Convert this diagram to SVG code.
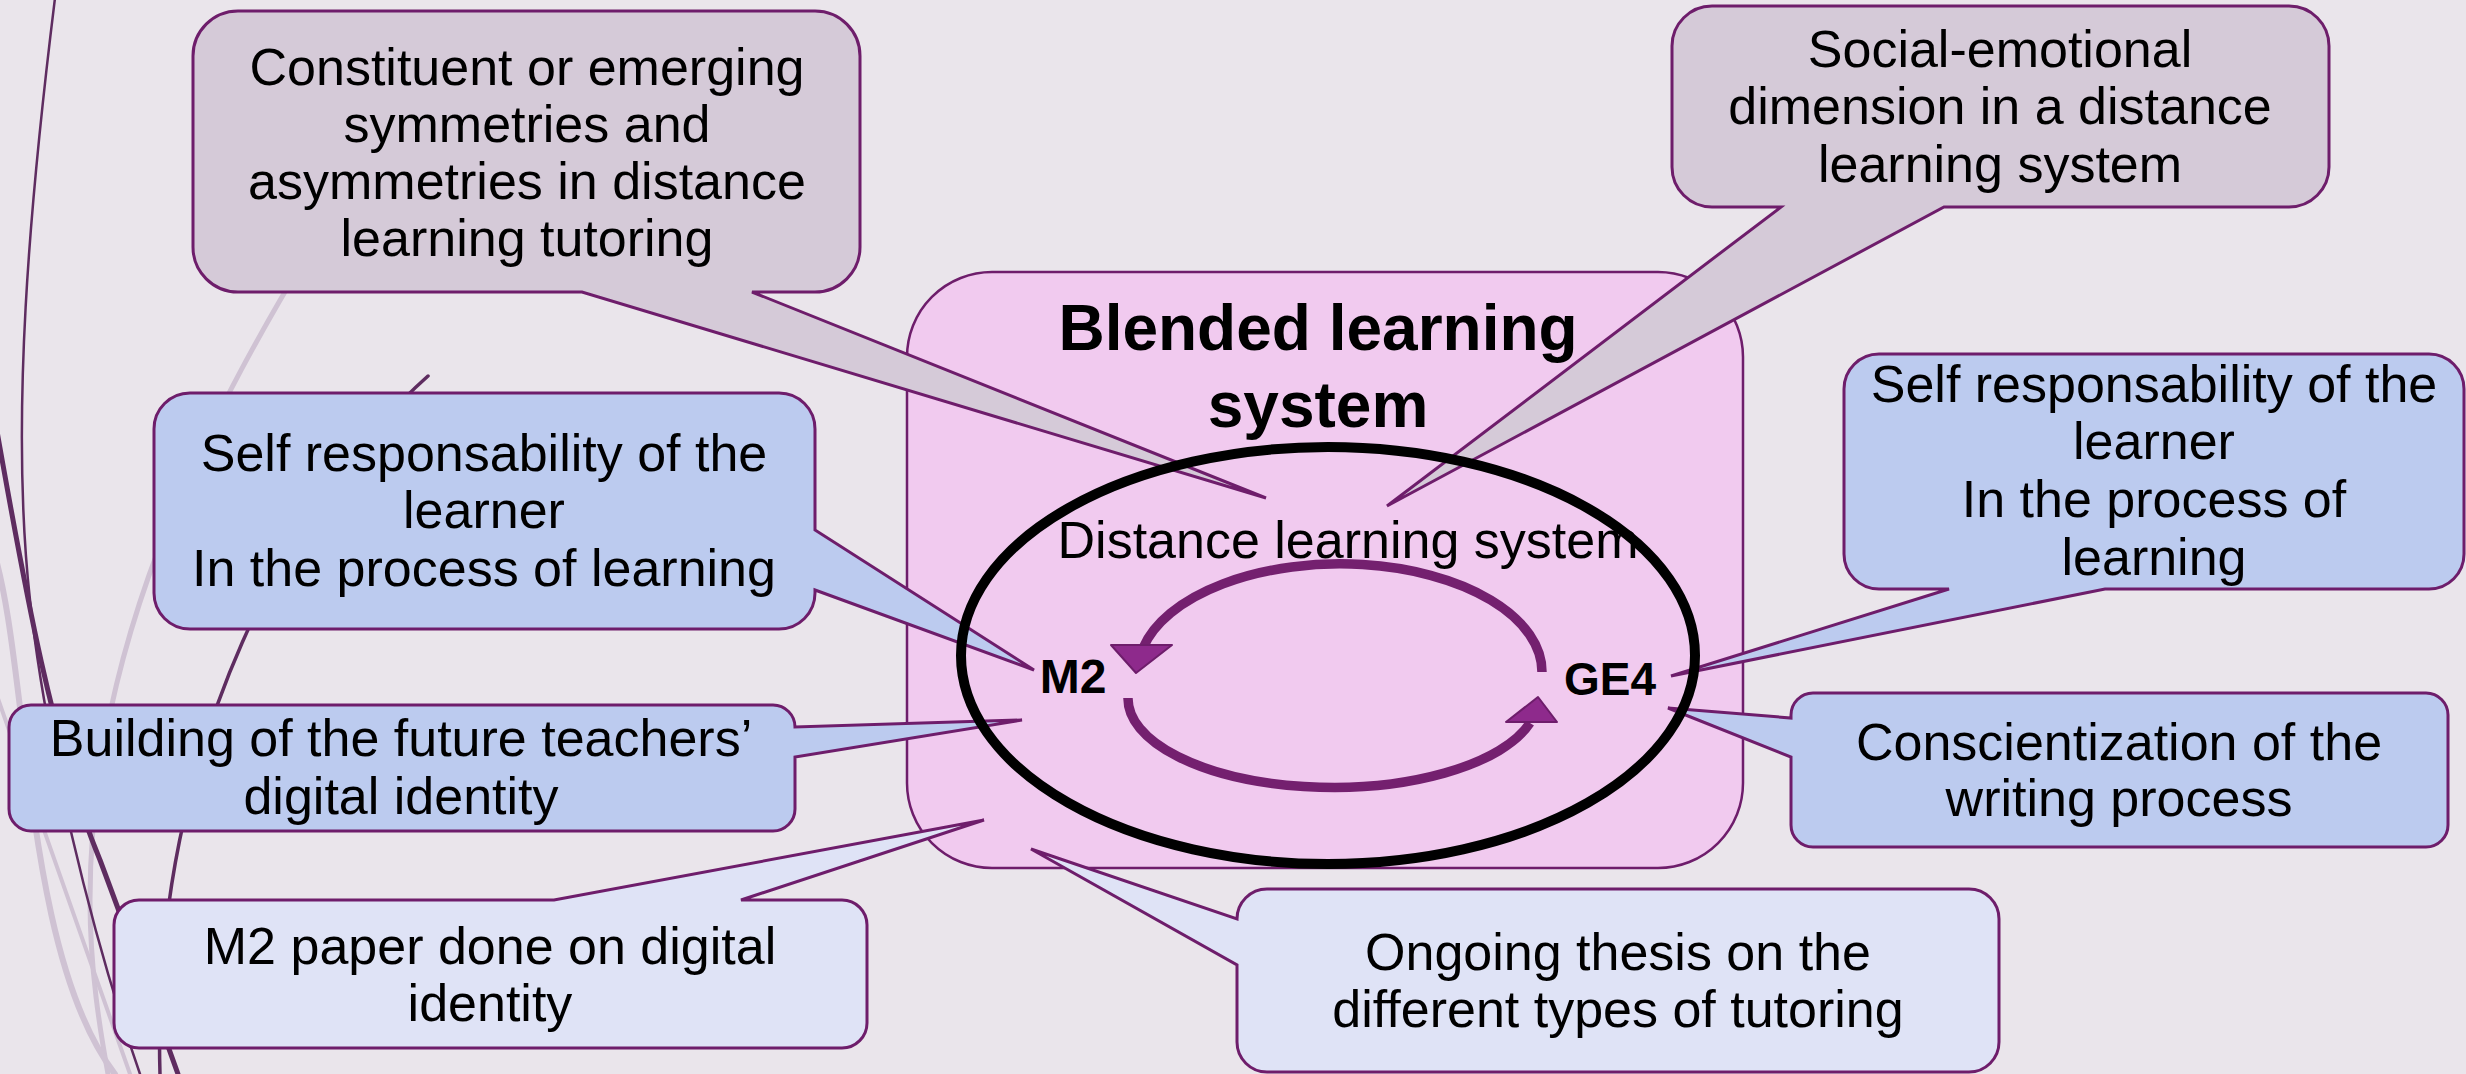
<svg xmlns="http://www.w3.org/2000/svg" width="2466" height="1074" viewBox="0 0 2466 1074">
<defs>
<style>
.bg{fill:#EAE5EB}
.wd{fill:none;stroke:#5E2C60;stroke-linecap:round}
.wl{fill:none;stroke:#CFC2D3;stroke-linecap:round}
.co{stroke:#6E1D6B;stroke-width:3;stroke-linejoin:miter}
.gray{fill:#D5CAD8}
.blue{fill:#BCCBEF}
.pale{fill:#DFE3F6}
.pink{fill:#F1CAEF;stroke:#6E1D6B;stroke-width:2.5}
.t{font-family:"Liberation Sans",Arial,sans-serif;font-size:52px;fill:#000;text-anchor:middle}
.tb{font-family:"Liberation Sans",Arial,sans-serif;font-weight:bold;fill:#000;text-anchor:middle}
.arc{fill:none;stroke:#74206F;stroke-width:9.5}
.head{fill:#8E2A8C;stroke:#6E1D6B;stroke-width:2;stroke-linejoin:round}
</style>
</defs>
<rect class="bg" x="0" y="0" width="2466" height="1074"/>

<g id="wisp">
<path class="wl" stroke-width="5" d="M 310 250 C 200 430 90 650 90 900 C 90 970 100 1030 108 1074"/>
<path class="wl" stroke-width="6" d="M -10 540 C 30 650 20 950 115 1074"/>
<path class="wl" stroke-width="4" d="M -5 690 C 40 820 90 960 130 1074"/>
<path class="wd" stroke-width="2.5" d="M 55 -2 C 30 200 10 420 30 600 C 45 740 90 930 140 1074"/>
<path class="wd" stroke-width="5" d="M -5 420 C 20 560 50 740 100 860 C 130 940 155 1010 178 1074"/>
<path class="wd" stroke-width="3.5" d="M 428 376 C 300 490 150 740 160 1074"/>
</g>

<g id="blended">
<rect class="pink" x="907" y="272" width="836" height="596" rx="85" ry="85"/>
<text class="tb" font-size="64" x="1318" y="350">Blended learning</text>
<text class="tb" font-size="64" x="1318" y="427">system</text>
</g>

<g id="distance-label">
<text class="t" x="1348" y="558">Distance learning system</text>
</g>

<g id="connectors">
<path class="arc" d="M 1542 672 A 202 108 0 0 0 1143 648"/>
<polygon class="head" points="1111,645 1172,645 1136,673"/>
<path class="arc" d="M 1128 698 A 205 89 0 0 0 1530 723"/>
<polygon class="head" points="1506,722 1557,722 1538,697"/>
</g>

<g id="m2"><text class="tb" font-size="48" x="1073" y="693">M2</text></g>
<g id="ge4"><text class="tb" font-size="46" x="1610" y="695">GE4</text></g>

<g id="c-symmetries">
<path class="co gray" d="M 238 11 H 815 A 45 45 0 0 1 860 56 V 247 A 45 45 0 0 1 815 292 H 752 L 1266 498 L 582 292 H 238 A 45 45 0 0 1 193 247 V 56 A 45 45 0 0 1 238 11 Z"/>
<text class="t" x="527" y="85">Constituent or emerging</text>
<text class="t" x="527" y="142">symmetries and</text>
<text class="t" x="527" y="199">asymmetries in distance</text>
<text class="t" x="527" y="256">learning tutoring</text>
</g>

<g id="c-social">
<path class="co gray" d="M 1712 6 H 2289 A 40 40 0 0 1 2329 46 V 167 A 40 40 0 0 1 2289 207 H 1944 L 1387 506 L 1781 207 H 1712 A 40 40 0 0 1 1672 167 V 46 A 40 40 0 0 1 1712 6 Z"/>
<text class="t" x="2000" y="67">Social-emotional</text>
<text class="t" x="2000" y="124">dimension in a distance</text>
<text class="t" x="2000" y="182">learning system</text>
</g>

<g id="c-self-left">
<path class="co blue" d="M 190 393 H 779 A 36 36 0 0 1 815 429 V 530 L 1034 670 L 815 590 V 593 A 36 36 0 0 1 779 629 H 190 A 36 36 0 0 1 154 593 V 429 A 36 36 0 0 1 190 393 Z"/>
<text class="t" x="484" y="471">Self responsability of the</text>
<text class="t" x="484" y="528">learner</text>
<text class="t" x="484" y="586">In the process of learning</text>
</g>

<g id="c-building">
<path class="co blue" d="M 31 705 H 773 A 22 22 0 0 1 795 727 L 1022 720 L 795 757 V 809 A 22 22 0 0 1 773 831 H 31 A 22 22 0 0 1 9 809 V 727 A 22 22 0 0 1 31 705 Z"/>
<text class="t" x="401" y="756">Building of the future teachers’</text>
<text class="t" x="401" y="814">digital identity</text>
</g>

<g id="c-m2paper">
<path class="co pale" d="M 139 900 H 554 L 984 820 L 741 900 H 842 A 25 25 0 0 1 867 925 V 1023 A 25 25 0 0 1 842 1048 H 139 A 25 25 0 0 1 114 1023 V 925 A 25 25 0 0 1 139 900 Z"/>
<text class="t" x="490" y="964">M2 paper done on digital</text>
<text class="t" x="490" y="1021">identity</text>
</g>

<g id="c-ongoing">
<path class="co pale" d="M 1267 889 H 1969 A 30 30 0 0 1 1999 919 V 1042 A 30 30 0 0 1 1969 1072 H 1267 A 30 30 0 0 1 1237 1042 V 965 L 1031 849 L 1237 919 A 30 30 0 0 1 1267 889 Z"/>
<text class="t" x="1618" y="970">Ongoing thesis on the</text>
<text class="t" x="1618" y="1027">different types of tutoring</text>
</g>

<g id="c-self-right">
<path class="co blue" d="M 1879 354 H 2429 A 35 35 0 0 1 2464 389 V 554 A 35 35 0 0 1 2429 589 H 2105 L 1671 676 L 1949 589 H 1879 A 35 35 0 0 1 1844 554 V 389 A 35 35 0 0 1 1879 354 Z"/>
<text class="t" x="2154" y="402">Self responsability of the</text>
<text class="t" x="2154" y="459">learner</text>
<text class="t" x="2154" y="517">In the process of</text>
<text class="t" x="2154" y="575">learning</text>
</g>

<g id="c-conscientization">
<path class="co blue" d="M 1813 693 H 2426 A 22 22 0 0 1 2448 715 V 825 A 22 22 0 0 1 2426 847 H 1813 A 22 22 0 0 1 1791 825 V 757 L 1668 708 L 1791 718 V 715 A 22 22 0 0 1 1813 693 Z"/>
<text class="t" x="2119" y="760">Conscientization of the</text>
<text class="t" x="2119" y="816">writing process</text>
</g>

<g id="distance-system">
<ellipse cx="1328" cy="655.5" rx="367" ry="208.5" fill="none" stroke="#000" stroke-width="10"/>
</g>
</svg>
